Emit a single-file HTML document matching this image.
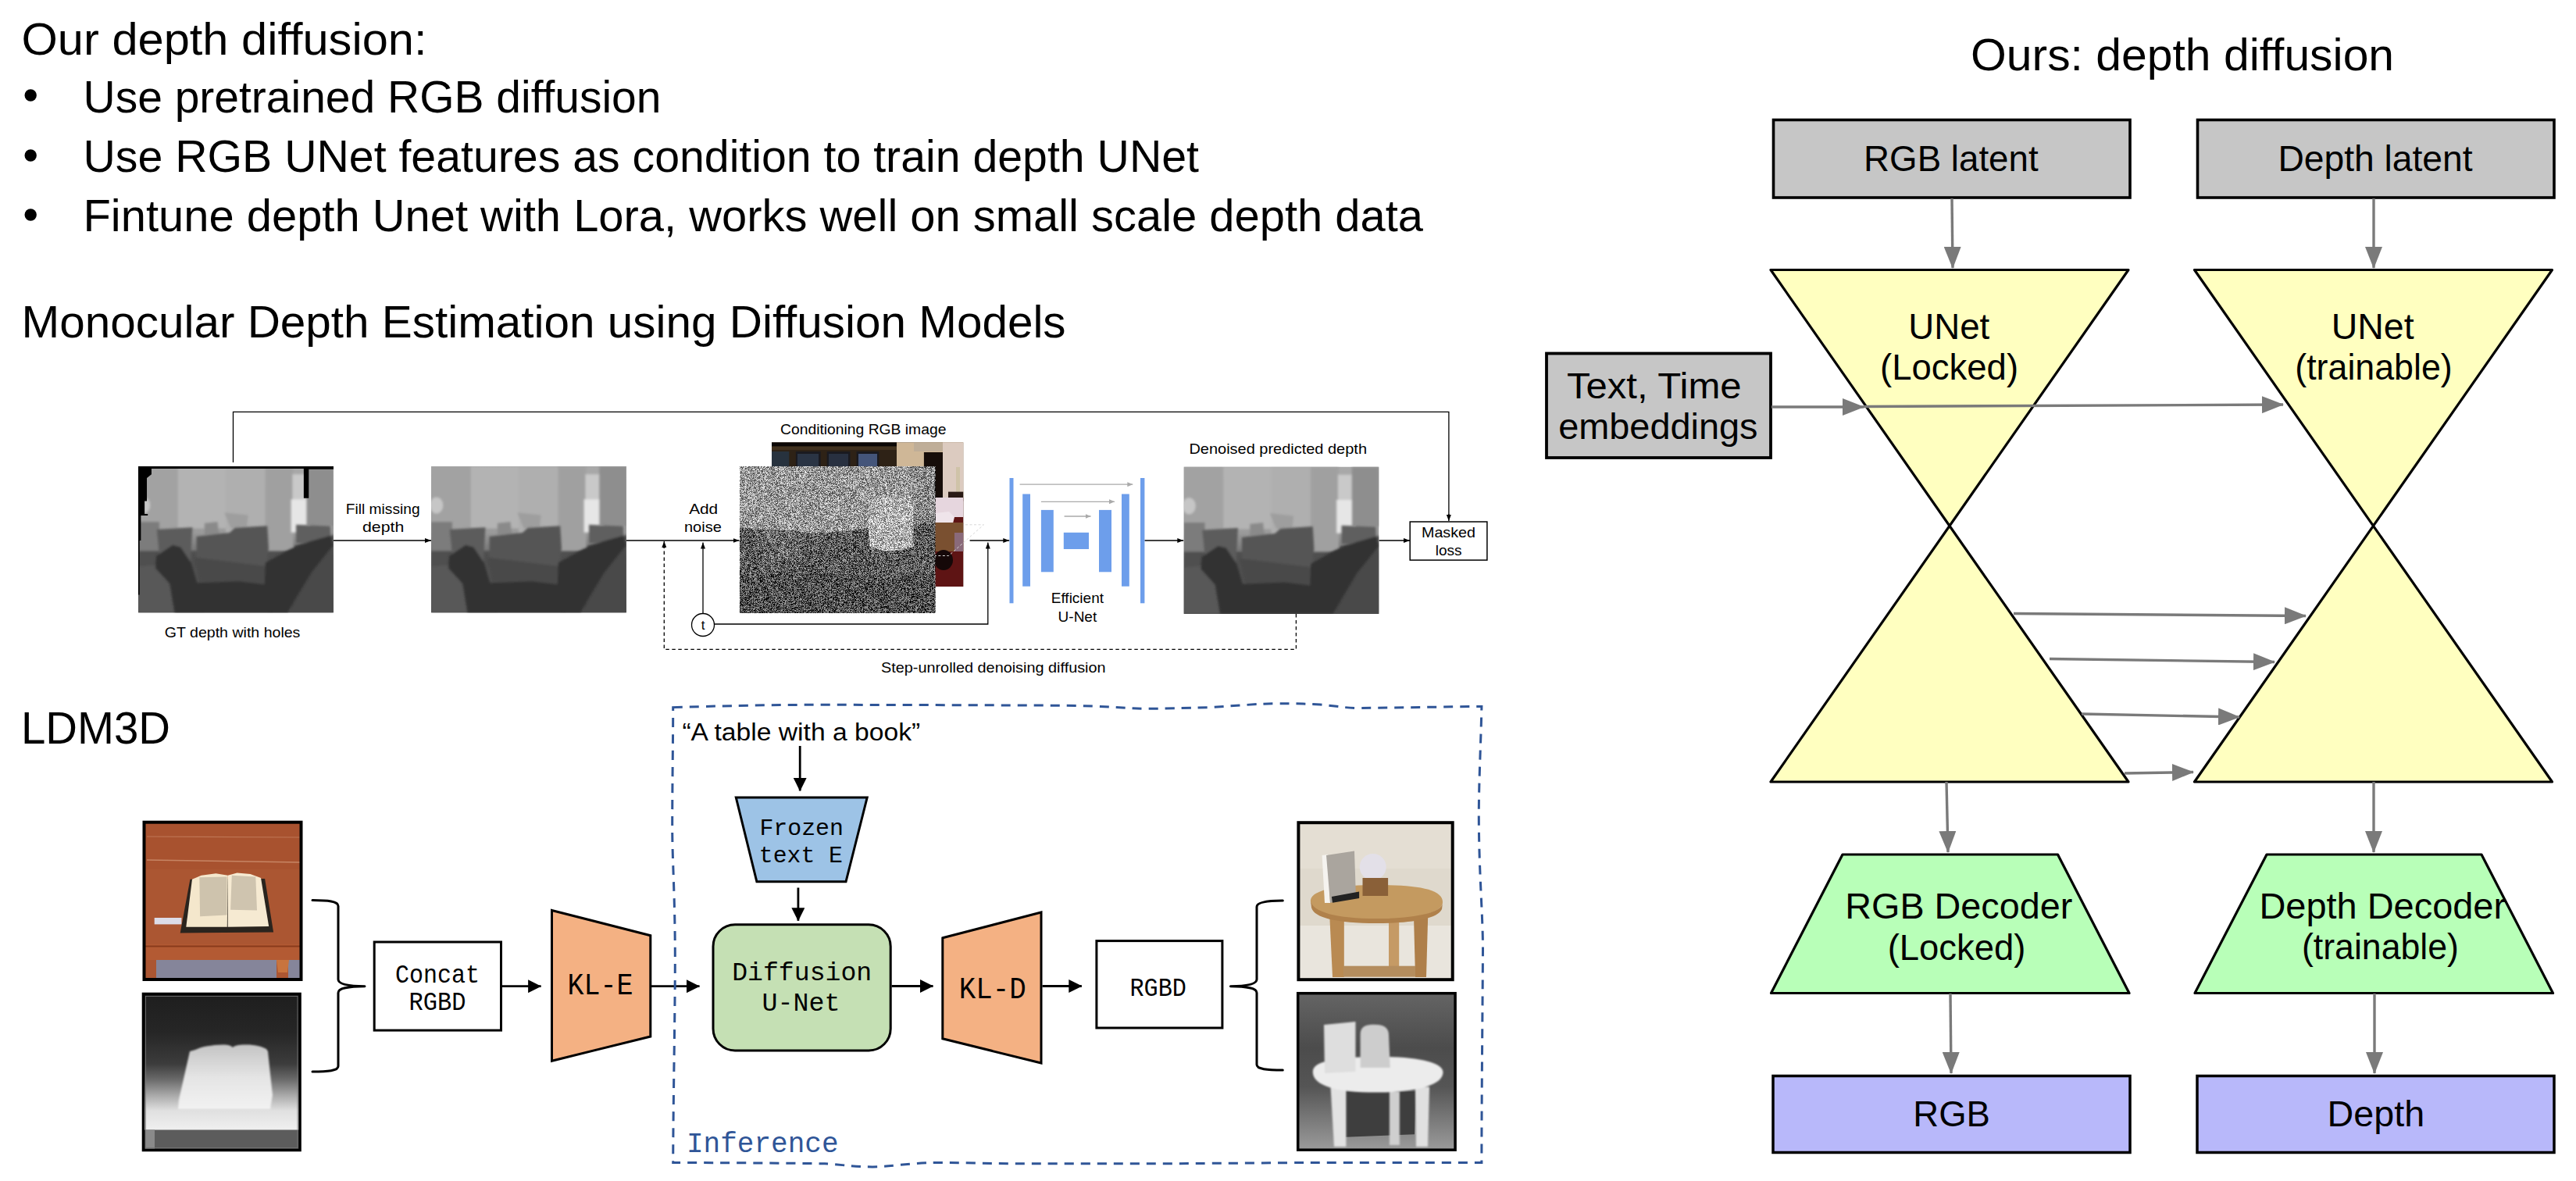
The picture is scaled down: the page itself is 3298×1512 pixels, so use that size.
<!DOCTYPE html>
<html><head><meta charset="utf-8">
<style>
html,body{margin:0;padding:0;background:#fff;width:3298px;height:1512px;overflow:hidden;}
svg{display:block;}
.cal{font-family:"Liberation Sans",sans-serif;font-size:58px;fill:#000;}
.hel{font-family:"Liberation Sans",sans-serif;font-size:46.5px;fill:#000;}
.gs{font-family:"Liberation Sans",sans-serif;font-size:19px;fill:#000;}
.mono{font-family:"Liberation Mono",monospace;fill:#000;}
</style></head>
<body>
<svg width="3298" height="1512" viewBox="0 0 3298 1512">
<defs>
  <marker id="ag" viewBox="0 0 28 22" refX="27" refY="11" markerWidth="28" markerHeight="22" markerUnits="userSpaceOnUse" orient="auto">
    <path d="M0,0 L28,11 L0,22 z" fill="#7a7a7a"/>
  </marker>
</defs>
<rect width="3298" height="1512" fill="#fff"/>

<!-- ===== TOP-LEFT TEXT ===== -->
<g class="cal">
  <text x="27.5" y="70" textLength="519" lengthAdjust="spacingAndGlyphs">Our depth diffusion:</text>
  <circle cx="39.2" cy="122" r="7.7"/>
  <circle cx="39.2" cy="199" r="7.7"/>
  <circle cx="39.2" cy="275" r="7.7"/>
  <text x="106.5" y="144" textLength="740" lengthAdjust="spacingAndGlyphs">Use pretrained RGB diffusion</text>
  <text x="106.5" y="220" textLength="1428.5" lengthAdjust="spacingAndGlyphs">Use RGB UNet features as condition to train depth UNet</text>
  <text x="106.5" y="296" textLength="1715.5" lengthAdjust="spacingAndGlyphs">Fintune depth Unet with Lora, works well on small scale depth data</text>
  <text x="27.6" y="432" textLength="1337" lengthAdjust="spacingAndGlyphs">Monocular Depth Estimation using Diffusion Models</text>
  <text x="27" y="952" textLength="191" lengthAdjust="spacingAndGlyphs">LDM3D</text>
  <text x="2523.1" y="90" textLength="542" lengthAdjust="spacingAndGlyphs">Ours: depth diffusion</text>
</g>

<!-- ===== RIGHT DIAGRAM ===== -->
<g id="right">
  <!-- latent boxes -->
  <rect x="2270.5" y="153.5" width="456.5" height="99.5" fill="#c6c6c6" stroke="#000" stroke-width="3.6"/>
  <rect x="2813.5" y="153.5" width="456.5" height="99.5" fill="#c6c6c6" stroke="#000" stroke-width="3.6"/>
  <rect x="1980" y="452.5" width="287" height="133.5" fill="#c6c6c6" stroke="#000" stroke-width="3.8"/>
  <!-- hourglass triangles -->
  <path d="M2267,345.5 L2725,345.5 L2267,1001 L2725,1001 Z" fill="#ffffc0" stroke="#000" stroke-width="3.2" stroke-linejoin="round"/>
  <path d="M2809.5,345.5 L3267.5,345.5 L2809.5,1001 L3267.5,1001 Z" fill="#ffffc0" stroke="#000" stroke-width="3.2" stroke-linejoin="round"/>
  <!-- decoders -->
  <path d="M2359,1094 L2634.5,1094 L2726,1271.5 L2267.5,1271.5 Z" fill="#b8ffb8" stroke="#000" stroke-width="3.2" stroke-linejoin="round"/>
  <path d="M2902,1094 L3177,1094 L3268.5,1271.5 L2810,1271.5 Z" fill="#b8ffb8" stroke="#000" stroke-width="3.2" stroke-linejoin="round"/>
  <!-- outputs -->
  <rect x="2270" y="1377.5" width="457" height="98" fill="#b8b8fa" stroke="#000" stroke-width="3.5"/>
  <rect x="2813" y="1377.5" width="457" height="98" fill="#b8b8fa" stroke="#000" stroke-width="3.5"/>
  <!-- arrows -->
  <g stroke="#7a7a7a" stroke-width="3.4" fill="none" marker-end="url(#ag)">
    <line x1="2499" y1="254" x2="2500" y2="343"/>
    <line x1="3039" y1="254" x2="3039" y2="343"/>
    <line x1="2268" y1="521" x2="2386" y2="521"/>
    <line x1="2386" y1="520.5" x2="2923" y2="518"/>
    <line x1="2578" y1="785.5" x2="2952" y2="788.5"/>
    <line x1="2624" y1="843.5" x2="2912" y2="847.5"/>
    <line x1="2665" y1="914" x2="2867" y2="918"/>
    <line x1="2720" y1="990" x2="2808" y2="988.5"/>
    <line x1="2492" y1="1001" x2="2494" y2="1091"/>
    <line x1="3039" y1="1001" x2="3039" y2="1091"/>
    <line x1="2497" y1="1272" x2="2498" y2="1374"/>
    <line x1="3040" y1="1272" x2="3040" y2="1374"/>
  </g>
  <g class="hel">
    <text x="2386.1" y="219.2" textLength="223.5" lengthAdjust="spacingAndGlyphs">RGB latent</text>
    <text x="2916.4" y="218.9" textLength="249.2" lengthAdjust="spacingAndGlyphs">Depth latent</text>
    <text x="2006.0" y="510.1" textLength="223.6" lengthAdjust="spacingAndGlyphs">Text, Time</text>
    <text x="1995.2" y="562" textLength="255.3" lengthAdjust="spacingAndGlyphs">embeddings</text>
    <text x="2443.3" y="433.9" textLength="104.0" lengthAdjust="spacingAndGlyphs">UNet</text>
    <text x="2407.0" y="485.5" textLength="177.1" lengthAdjust="spacingAndGlyphs">(Locked)</text>
    <text x="2984.8" y="433.9" textLength="105.8" lengthAdjust="spacingAndGlyphs">UNet</text>
    <text x="2938.3" y="485.5" textLength="201.4" lengthAdjust="spacingAndGlyphs">(trainable)</text>
    <text x="2362.3" y="1176" textLength="290.9" lengthAdjust="spacingAndGlyphs">RGB Decoder</text>
    <text x="2416.7" y="1228.8" textLength="176.8" lengthAdjust="spacingAndGlyphs">(Locked)</text>
    <text x="2892.4" y="1175.9" textLength="315.7" lengthAdjust="spacingAndGlyphs">Depth Decoder</text>
    <text x="2947.0" y="1228.3" textLength="200.9" lengthAdjust="spacingAndGlyphs">(trainable)</text>
    <text x="2449.3" y="1442" textLength="98.6" lengthAdjust="spacingAndGlyphs">RGB</text>
    <text x="2979.6" y="1442" textLength="124.5" lengthAdjust="spacingAndGlyphs">Depth</text>
  </g>
</g>

<!-- ===== MIDDLE FIGURE (Monocular depth) ===== -->
<defs>
  <marker id="ab" viewBox="0 0 8 6" refX="8" refY="3" markerWidth="8" markerHeight="6" markerUnits="userSpaceOnUse" orient="auto">
    <path d="M0,0 L8,3 L0,6 z" fill="#000"/>
  </marker>
  <marker id="abg" viewBox="0 0 7 6" refX="7" refY="3" markerWidth="7" markerHeight="6" markerUnits="userSpaceOnUse" orient="auto">
    <path d="M0,0 L7,3 L0,6 z" fill="#aaa"/>
  </marker>
  <filter id="soft" x="-5%" y="-5%" width="110%" height="110%"><feGaussianBlur stdDeviation="9"/></filter>
  <linearGradient id="dbg" x1="0" y1="0" x2="0" y2="1">
    <stop offset="0" stop-color="#a9a9a9"/>
    <stop offset="0.45" stop-color="#9a9a9a"/>
    <stop offset="0.62" stop-color="#6a6a6a"/>
    <stop offset="1" stop-color="#4c4c4c"/>
  </linearGradient>
  <symbol id="depthimg" viewBox="0 0 1475 1108" preserveAspectRatio="none">
    <rect width="1475" height="1108" fill="url(#dbg)"/>
    <g filter="url(#soft)">
      <rect x="0" y="0" width="300" height="470" fill="#a2a2a2"/>
      <rect x="300" y="0" width="660" height="470" fill="#b3b3b3"/>
      <rect x="660" y="0" width="300" height="600" fill="#afafaf"/>
      <rect x="960" y="0" width="210" height="640" fill="#a0a0a0"/>
      <rect x="1165" y="60" width="105" height="200" fill="#c9c9c9"/>
      <rect x="1155" y="250" width="145" height="250" fill="#e6e6e6"/>
      <rect x="1270" y="0" width="205" height="450" fill="#8e8e8e"/>
      <ellipse cx="40" cy="295" rx="50" ry="62" fill="#c6c6c6"/>
      <rect x="0" y="420" width="160" height="260" fill="#7c7c7c"/>
      <path d="M650,350 L830,370 L820,460 L700,470 Z" fill="#9e9e9e"/>
      <path d="M500,430 L600,420 L610,520 L500,520 Z" fill="#8a8a8a"/>
      <rect x="0" y="640" width="1475" height="468" fill="#505050"/>
      <path d="M0,760 L200,740 L280,1108 L0,1108 Z" fill="#585858"/>
      <path d="M1180,600 L1475,520 L1475,1108 L1150,1108 Z" fill="#4a4a4a"/>
    </g>
    <g filter="url(#soft)">
      <path d="M140,478 L410,462 L400,620 L395,730 L160,668 Z" fill="#5c5c5c"/>
      <path d="M440,532 L690,502 L730,466 L975,450 L985,620 L965,770 L440,730 Z" fill="#545454"/>
      <path d="M1192,442 L1450,452 L1455,560 L1300,590 L1192,580 Z" fill="#5e5e5e"/>
      <path d="M420,690 L985,760 L960,900 L700,930 L470,900 Z" fill="#484848"/>
      <path d="M135,680 L260,596 L320,612 L400,730 L450,900 L490,1108 L275,1108 L240,890 L130,770 Z" fill="#333"/>
      <path d="M960,730 L1150,625 L1300,568 L1452,525 L1470,600 L1310,800 L1190,1000 L1130,1108 L985,1108 L955,900 Z" fill="#303030"/>
      <path d="M280,890 L760,870 L1000,900 L1010,1108 L280,1108 Z" fill="#303030"/>
    </g>
  </symbol>
  <linearGradient id="nbg" x1="0" y1="0" x2="0" y2="1">
    <stop offset="0" stop-color="#a8a8a8"/>
    <stop offset="0.42" stop-color="#a0a0a0"/>
    <stop offset="0.55" stop-color="#6c6c6c"/>
    <stop offset="1" stop-color="#5e5e5e"/>
  </linearGradient>
  <filter id="noisef" x="0" y="0" width="100%" height="100%" color-interpolation-filters="sRGB">
    <feTurbulence type="fractalNoise" baseFrequency="2.3" numOctaves="1" seed="7" result="t"/>
    <feColorMatrix in="t" type="matrix" values="5 0 0 0 -2  5 0 0 0 -2  5 0 0 0 -2  0 0 0 0 1" result="n"/>
    <feComposite in="SourceGraphic" in2="n" operator="arithmetic" k1="0" k2="1" k3="0.6" k4="-0.3"/>
  </filter>
</defs>

<g id="mid">
  <!-- connecting lines -->
  <g stroke="#000" stroke-width="1.3" fill="none">
    <polyline points="298.5,592 298.5,527.3 1854.9,527.3 1854.9,660"/>
    <line x1="1854.9" y1="658" x2="1854.9" y2="667" marker-end="url(#ab)"/>
    <line x1="427" y1="692" x2="552" y2="692" marker-end="url(#ab)"/>
    <line x1="802" y1="692" x2="946.5" y2="692" marker-end="url(#ab)"/>
    <line x1="1241.6" y1="692" x2="1292.3" y2="692" marker-end="url(#ab)"/>
    <line x1="1465.4" y1="692" x2="1515.3" y2="692" marker-end="url(#ab)"/>
    <line x1="1765.5" y1="692" x2="1805" y2="692" marker-end="url(#ab)"/>
    <polyline points="915,799 1264.8,799 1264.8,700"/>
    <line x1="1264.8" y1="702" x2="1264.8" y2="694.5" marker-end="url(#ab)"/>
    <line x1="900" y1="785" x2="900" y2="694.5" marker-end="url(#ab)"/>
    <circle cx="900" cy="800" r="14.5" fill="#fff"/>
  </g>
  <g stroke="#000" stroke-width="1.3" fill="none" stroke-dasharray="4.5,3.5">
    <polyline points="1659.4,786 1659.4,831.4 850.3,831.4 850.3,700"/>
  </g>
  <line x1="850.3" y1="702" x2="850.3" y2="693" stroke="#000" stroke-width="1.3" marker-end="url(#ab)"/>
  <text x="900" y="806" font-family="Liberation Sans" font-size="17" text-anchor="middle">t</text>

  <!-- images -->
  <use href="#depthimg" x="177" y="597" width="250" height="187.5"/>
  <!-- holes overlay for GT depth -->
  <g transform="translate(177,597) scale(0.16949)" fill="#000">
    <path d="M0,0 L1475,0 L1475,22 L1288,22 L1288,240 L1250,240 L1250,18 L100,18 L100,60 L65,88 L65,262 L48,262 L48,360 L72,360 L72,372 L20,372 L20,560 L10,560 L10,970 L0,970 Z"/>
  </g>
  <use href="#depthimg" x="552" y="597" width="250" height="187.5"/>
  <use href="#depthimg" x="1515.5" y="597.5" width="250" height="188.5"/>

  <!-- RGB conditioning image behind -->
  <g>
    <rect x="988" y="566.4" width="245.2" height="184.5" fill="#42321f"/>
    <rect x="988" y="566.4" width="160" height="5" fill="#0c0806"/>
    <rect x="988" y="576" width="160" height="21" fill="#2e2216"/>
    <rect x="988" y="578" width="22.3" height="19" fill="#27323e"/>
    <rect x="1018.9" y="578" width="31.7" height="19" fill="#1a1a20"/>
    <rect x="1021" y="581" width="27" height="16" fill="#2a3444"/>
    <rect x="1058.7" y="578" width="29.8" height="19" fill="#1a1a20"/>
    <rect x="1061" y="581" width="25" height="16" fill="#283040"/>
    <rect x="1096.6" y="578" width="28.7" height="19" fill="#1a1a20"/>
    <rect x="1099" y="581" width="24" height="16" fill="#44557a"/>
    <rect x="1148" y="566.4" width="85.2" height="72" fill="#cfb797"/>
    <rect x="1170" y="567" width="37" height="11" fill="#bfae98"/>
    <rect x="1182.9" y="579" width="24.2" height="60" fill="#160d09"/>
    <rect x="1207" y="566.4" width="26.2" height="72" fill="#dccbc0"/>
    <rect x="1224" y="598" width="5" height="32" fill="#cfc3a8"/>
    <rect x="1214" y="629.6" width="19.2" height="12" fill="#2a1a15"/>
    <rect x="1197" y="637" width="36.2" height="114" fill="#5e1414"/>
    <rect x="1197" y="637" width="36.2" height="25" fill="#e6d6de"/>
    <path d="M1197,657 L1215,655 L1222,662 L1220,670 L1197,670 Z" fill="#efe4ea"/>
    <rect x="1197" y="669" width="36.2" height="37" fill="#7a5030"/>
    <rect x="1222" y="682" width="11.2" height="24" fill="#8a6a7a"/>
    <ellipse cx="1208" cy="717" rx="12" ry="13" fill="#150808"/>
  </g>
  <!-- noise image -->
  <g filter="url(#noisef)">
    <rect x="947" y="597" width="250.2" height="187.4" fill="#5a5a5a"/>
    <path d="M947,597 L1197.2,597 L1197.2,669 L1111,676 L1080,680 L1040,683 L1000,679 L970,677 L947,676 Z" fill="#989898"/>
    <path d="M1164,597 L1197.2,597 L1197.2,669 L1164,671 Z" fill="#888"/>
    <path d="M1111,640 L1168,634 L1170,700 L1150,705 L1130,705 L1113,700 Z" fill="#b0b0b0"/>
    <path d="M971,677 L1024,680 L1026,716 L975,712 Z" fill="#6a6a6a"/>
    <rect x="947" y="735" width="250.2" height="49.4" fill="#505050"/>
  </g>

  <polyline points="1236,671.8 1259.4,671.8 1214.6,711.5 1197.2,711.5" fill="none" stroke="#d8d8d8" stroke-width="1" stroke-dasharray="3,2.5"/>
  <!-- U-Net -->
  <g fill="#6d9eeb">
    <rect x="1292.5" y="612" width="5" height="160.3"/>
    <rect x="1309.2" y="632.5" width="9.8" height="118.2"/>
    <rect x="1332.9" y="652.9" width="15.9" height="79.4"/>
    <rect x="1361.8" y="681.8" width="32.2" height="21.2"/>
    <rect x="1407" y="652.9" width="16" height="79.4"/>
    <rect x="1436" y="632.5" width="9.8" height="118.2"/>
    <rect x="1460" y="612" width="5.4" height="160.3"/>
  </g>
  <g stroke="#aaa" stroke-width="1.3">
    <line x1="1305.6" y1="620.2" x2="1450.3" y2="620.2" marker-end="url(#abg)"/>
    <line x1="1332.9" y1="642.3" x2="1427" y2="642.3" marker-end="url(#abg)"/>
    <line x1="1362.6" y1="661" x2="1396.5" y2="661" marker-end="url(#abg)"/>
  </g>
  <rect x="1805.2" y="668" width="98.7" height="49.1" fill="#fff" stroke="#000" stroke-width="1.5"/>

  <g class="gs">
    <text x="999.0" y="555.8" textLength="212.4" lengthAdjust="spacingAndGlyphs">Conditioning RGB image</text>
    <text x="1522.4" y="580.7" textLength="227.6" lengthAdjust="spacingAndGlyphs">Denoised predicted depth</text>
    <text x="442.8" y="657.9" textLength="94.8" lengthAdjust="spacingAndGlyphs">Fill missing</text>
    <text x="464.0" y="681" textLength="53.2" lengthAdjust="spacingAndGlyphs">depth</text>
    <text x="882.2" y="657.9" textLength="37.0" lengthAdjust="spacingAndGlyphs">Add</text>
    <text x="876.0" y="681" textLength="47.8" lengthAdjust="spacingAndGlyphs">noise</text>
    <text x="1379.4" y="772.3" text-anchor="middle">Efficient</text>
    <text x="1379.4" y="795.5" text-anchor="middle">U-Net</text>
    <text x="1820.0" y="687.8" textLength="69.0" lengthAdjust="spacingAndGlyphs">Masked</text>
    <text x="1854.6" y="711.1" text-anchor="middle">loss</text>
    <text x="210.8" y="816" textLength="173.6" lengthAdjust="spacingAndGlyphs">GT depth with holes</text>
    <text x="1128.0" y="860.7" textLength="287.6" lengthAdjust="spacingAndGlyphs">Step-unrolled denoising diffusion</text>
  </g>
</g>

<!-- ===== BOTTOM FIGURE (LDM3D) ===== -->
<defs>
  <marker id="abk" viewBox="0 0 17 17" refX="16.5" refY="8.5" markerWidth="17" markerHeight="17" markerUnits="userSpaceOnUse" orient="auto">
    <path d="M0,0 L17,8.5 L0,17 z" fill="#000"/>
  </marker>
  <linearGradient id="bookdepth" x1="0" y1="0" x2="0" y2="1">
    <stop offset="0" stop-color="#1e1e1e"/>
    <stop offset="0.25" stop-color="#262626"/>
    <stop offset="0.45" stop-color="#3c3c3c"/>
    <stop offset="0.55" stop-color="#6a6a6a"/>
    <stop offset="0.65" stop-color="#a8a8a8"/>
    <stop offset="0.75" stop-color="#e0e0e0"/>
    <stop offset="0.86" stop-color="#eeeeee"/>
    <stop offset="1" stop-color="#eeeeee"/>
  </linearGradient>
  <linearGradient id="tabledepth" x1="0" y1="0" x2="0" y2="1">
    <stop offset="0" stop-color="#646464"/>
    <stop offset="0.35" stop-color="#4c4c4c"/>
    <stop offset="0.6" stop-color="#555"/>
    <stop offset="1" stop-color="#9a9a9a"/>
  </linearGradient>
  <filter id="blur1"><feGaussianBlur stdDeviation="1"/></filter>
  <linearGradient id="bookwhite" x1="0" y1="0" x2="0" y2="1">
    <stop offset="0" stop-color="#c4c4c4"/>
    <stop offset="0.5" stop-color="#e4e4e4"/>
    <stop offset="1" stop-color="#f2f2f2"/>
  </linearGradient>
  <filter id="blur2"><feGaussianBlur stdDeviation="2"/></filter>
  <filter id="blur4"><feGaussianBlur stdDeviation="4"/></filter>
</defs>
<g id="bot">
  <!-- book photo -->
  <g>
    <rect x="185" y="1053" width="200" height="200" fill="#ab5632"/>
    <rect x="185" y="1053" width="200" height="60" fill="#a8522f"/>
    <line x1="188" y1="1071" x2="385" y2="1072" stroke="#c47e5e" stroke-width="1.2" opacity="0.8"/>
    <line x1="188" y1="1101" x2="385" y2="1104" stroke="#cf9272" stroke-width="1.6" opacity="0.8"/>
    <rect x="185" y="1209" width="200" height="20" fill="#b35a33"/>
    <line x1="185" y1="1211.5" x2="385" y2="1211.5" stroke="#8a3a1c" stroke-width="2"/>
    <rect x="200" y="1229" width="154" height="24" fill="#85859a"/>
    <rect x="369" y="1229" width="16" height="24" fill="#85859a"/>
    <path d="M354,1229 L370,1229 L368,1245 L356,1245 Z" fill="#c8743e"/>
    <rect x="197.7" y="1175" width="34.7" height="8.4" fill="#dcdce8"/>
    <path d="M243.4,1125.8 L339.1,1125 L350.1,1193.6 L230.7,1194.4 Z" fill="#2a241e"/>
    <path d="M238.3,1186.8 L290.8,1186.8 L291.7,1120.7 L276.4,1118.2 L257.8,1120.7 L246,1125.8 Z" fill="#f4e7cc"/>
    <path d="M291.7,1186.8 L344.2,1186 L334,1124.1 L320.5,1119 L303.5,1117.4 L291.7,1120.7 Z" fill="#f6ead2"/>
    <g fill="#b0a694" opacity="0.55">
      <path d="M255.3,1123.3 L290.5,1122.4 L290.5,1171.5 L256.1,1173.2 Z"/>
      <path d="M296.8,1120.7 L327.3,1122.4 L329,1165.6 L295.1,1164.8 Z"/>
    </g>
  </g>
  <rect x="184.5" y="1052.7" width="201" height="201.3" fill="none" stroke="#000" stroke-width="4"/>
  <!-- book depth -->
  <g>
    <rect x="184" y="1272" width="200" height="200" fill="url(#bookdepth)"/>
    <g filter="url(#blur1)">
      <path d="M243,1346 L250,1344 C258,1340 270,1338 285,1337.5 C293,1337.5 296,1339 298,1341 C300,1339 304,1337.5 315,1337.5 C328,1337.5 336,1340 341,1343 L343,1346 L346,1375 L349,1402 L346,1420 L228,1420 L229,1408 Z" fill="url(#bookwhite)"/>
    </g>
    <rect x="184" y="1446.5" width="200" height="26" fill="#5c5c5c"/>
    <rect x="186" y="1446.5" width="12" height="26" fill="#8a8a8a"/>
  </g>
  <rect x="183.5" y="1272.5" width="200.5" height="200" fill="none" stroke="#000" stroke-width="3.6"/>
  <rect x="186.5" y="1275.5" width="194.5" height="194" fill="none" stroke="#777" stroke-width="0.8"/>

  <!-- table photo -->
  <g>
    <rect x="1662" y="1052" width="199" height="203" fill="#dfd9cd"/>
    <rect x="1662" y="1052" width="199" height="60" fill="#e4ded3"/>
    <rect x="1662" y="1185" width="199" height="70" fill="#e9e5dd"/>
    <!-- legs -->
    <path d="M1702.3,1173 L1720.8,1173 L1720.8,1251 L1706,1251 Z" fill="#b98a52"/>
    <rect x="1778" y="1178" width="13.2" height="60" fill="#c59a65"/>
    <path d="M1810,1173 L1828.2,1173 L1826,1251 L1812,1251 Z" fill="#ae7f4a"/>
    <rect x="1720" y="1236.7" width="92" height="14" fill="#b48d5e"/>
    <!-- table top -->
    <path d="M1678,1152 C1680,1138 1720,1133 1762,1133 C1815,1133 1847,1138 1847,1155 C1847,1170 1805,1178 1762,1178 C1712,1178 1676,1168 1678,1152 Z" fill="#c49a60"/>
    <path d="M1678,1153 C1680,1168 1712,1176 1762,1176 C1805,1176 1846,1170 1847,1156 L1846,1164 C1840,1177 1805,1182 1762,1182 C1712,1182 1682,1175 1679,1162 Z" fill="#b0814b"/>
    <!-- book -->
    <path d="M1692.6,1095 L1700,1094 L1703,1156 L1696,1156 Z" fill="#f5f3ef"/>
    <path d="M1698,1095 L1734,1089.6 L1736,1150 L1703,1155.7 Z" fill="#aaa59e"/>
    <path d="M1704.9,1148 L1740.1,1141.6 L1740.1,1150 L1706,1155.7 Z" fill="#222"/>
    <!-- lamp + box -->
    <circle cx="1757.7" cy="1110" r="17" fill="#e3e0e8"/>
    <rect x="1744.5" y="1124" width="32.6" height="23" fill="#8a6038"/>
  </g>
  <rect x="1662.4" y="1053.2" width="197.3" height="201" fill="none" stroke="#000" stroke-width="4"/>
  <!-- table depth -->
  <g>
    <rect x="1662" y="1272" width="200" height="199" fill="url(#tabledepth)"/>
    <path d="M1722.5,1397.6 L1812.7,1397.6 L1811,1452.3 L1722.5,1455.7 Z" fill="#3e3e3e"/>
    <g filter="url(#blur1)">
      <path d="M1703.4,1389.8 L1723.4,1389.8 L1723.4,1468 L1708,1468 Z" fill="#e2e2e2"/>
      <rect x="1778.9" y="1398" width="13" height="68" fill="#cfcfcf"/>
      <path d="M1811.9,1391.5 L1830.1,1391.5 L1828,1468 L1813,1468 Z" fill="#e0e0e0"/>
      <path d="M1681,1370 C1684,1357 1720,1353 1765,1353 C1815,1353 1848,1360 1847.5,1373 C1847,1390 1812,1398 1765,1398.5 C1712,1399 1678,1390 1681,1370 Z" fill="#ececec"/>
      <path d="M1695,1312 L1735.5,1308 L1735.5,1372 L1696,1374 Z" fill="#dedede"/>
      <path d="M1741.6,1325 C1741.6,1314 1748,1311.7 1760,1311.7 C1772,1311.7 1778,1316 1778,1325 L1779.8,1367 L1741.6,1367 Z" fill="#cdcdcd"/>
    </g>
  </g>
  <rect x="1661.7" y="1271.7" width="201.4" height="200.5" fill="none" stroke="#000" stroke-width="3.5"/>

  <!-- brackets -->
  <g fill="none" stroke="#000" stroke-width="3" stroke-linecap="round" stroke-linejoin="round">
    <path d="M400,1152.5 C420,1152.5 433,1154 433,1160 L433,1254 C433,1260 445,1262.5 467,1262.7 C445,1263 433,1265 433,1271 L433,1365 C433,1371 420,1372 400,1372"/>
    <path d="M1642.3,1153 C1622,1153 1609,1155 1609,1161 L1609,1254 C1609,1260 1597,1262.5 1575.4,1262.7 C1597,1263 1609,1265 1609,1271 L1609,1363 C1609,1369 1622,1370 1642.3,1370"/>
  </g>
  <!-- boxes -->
  <rect x="479.2" y="1206" width="162.3" height="113.1" fill="#fff" stroke="#000" stroke-width="3"/>
  <rect x="1403.9" y="1204.6" width="161" height="111.4" fill="#fff" stroke="#000" stroke-width="3"/>
  <path d="M706.5,1165.5 L832.8,1197.7 L832.8,1327 L706.5,1358.3 Z" fill="#f4b183" stroke="#000" stroke-width="3"/>
  <path d="M1206.8,1200.8 L1333,1168 L1333,1361 L1206.8,1329.8 Z" fill="#f4b183" stroke="#000" stroke-width="3"/>
  <path d="M942.3,1021 L1110.2,1021 L1083,1128.8 L968.9,1128.8 Z" fill="#9dc3e6" stroke="#000" stroke-width="3"/>
  <rect x="913" y="1183.8" width="227.2" height="161.2" rx="28" ry="28" fill="#c5e0b4" stroke="#000" stroke-width="3"/>
  <!-- arrows -->
  <g stroke="#000" stroke-width="2.8" fill="none" marker-end="url(#abk)">
    <line x1="643" y1="1262.7" x2="692.6" y2="1262.7"/>
    <line x1="834" y1="1262.7" x2="895.5" y2="1262.7"/>
    <line x1="1141.6" y1="1262.5" x2="1194.5" y2="1262.5"/>
    <line x1="1334.5" y1="1262.5" x2="1384.8" y2="1262.5"/>
    <line x1="1024.2" y1="955" x2="1024.2" y2="1012.4"/>
    <line x1="1021.9" y1="1136.5" x2="1021.9" y2="1178.8"/>
  </g>
  <!-- dashed inference box -->
  <path d="M861.7,905.6 C950,903 1000,902.3 1056,902.3 C1200,902.5 1300,903 1364,903.2 C1420,904 1440,907 1467,907.3 C1500,907.3 1530,906 1550,905.6 C1590,903 1610,901 1632,900.7 C1655,900.5 1670,901 1690,902 C1712,904 1720,906 1735,906.5 C1800,906 1850,904.8 1896.9,904.4 C1896,950 1893.3,1000 1893.3,1045 C1893.5,1120 1898.5,1170 1898.5,1216 C1898,1300 1896.9,1400 1896.9,1488.5 C1800,1488.5 1700,1488.5 1673,1488.5 C1600,1489 1500,1489.8 1467,1489.8 C1400,1489.8 1330,1489.8 1303,1489.8 C1260,1489.5 1230,1488.5 1200,1488.5 C1160,1489 1140,1493.9 1117,1493.9 C1090,1493.9 1070,1490 1056,1489.8 C1000,1489 920,1488.6 861.7,1488.5 C862,1400 864.3,1300 864.3,1226 C864.3,1150 860.7,1100 860.7,1060.7 C860.7,1000 861.7,950 861.7,905.6 Z" fill="none" stroke="#2f5597" stroke-width="3" stroke-dasharray="12,9"/>

  <!-- texts -->
  <text x="873.4" y="948.4" font-family="Liberation Sans" font-size="31" textLength="304.8" lengthAdjust="spacingAndGlyphs">“A table with a book”</text>
  <g class="mono">
    <text x="506" y="1258" font-size="33" textLength="108" lengthAdjust="spacingAndGlyphs">Concat</text>
    <text x="523.5" y="1293.4" font-size="33" textLength="73" lengthAdjust="spacingAndGlyphs">RGBD</text>
    <text x="726.6" y="1273.3" font-size="39" textLength="84" lengthAdjust="spacingAndGlyphs">KL-E</text>
    <text x="972.4" y="1069.3" font-size="30" textLength="107.6" lengthAdjust="spacingAndGlyphs">Frozen</text>
    <text x="971.8" y="1103.9" font-size="30" textLength="107.2" lengthAdjust="spacingAndGlyphs">text E</text>
    <text x="937.2" y="1254.9" font-size="33" textLength="179" lengthAdjust="spacingAndGlyphs">Diffusion</text>
    <text x="975.5" y="1294.1" font-size="33" textLength="100" lengthAdjust="spacingAndGlyphs">U-Net</text>
    <text x="1227.7" y="1278.4" font-size="39" textLength="86" lengthAdjust="spacingAndGlyphs">KL-D</text>
    <text x="1446.5" y="1274.5" font-size="33" textLength="72.5" lengthAdjust="spacingAndGlyphs">RGBD</text>
    <text x="879" y="1474.9" font-size="36" fill="#2f5597" textLength="194.6" lengthAdjust="spacingAndGlyphs">Inference</text>
  </g>
</g>

</svg>
</body></html>
